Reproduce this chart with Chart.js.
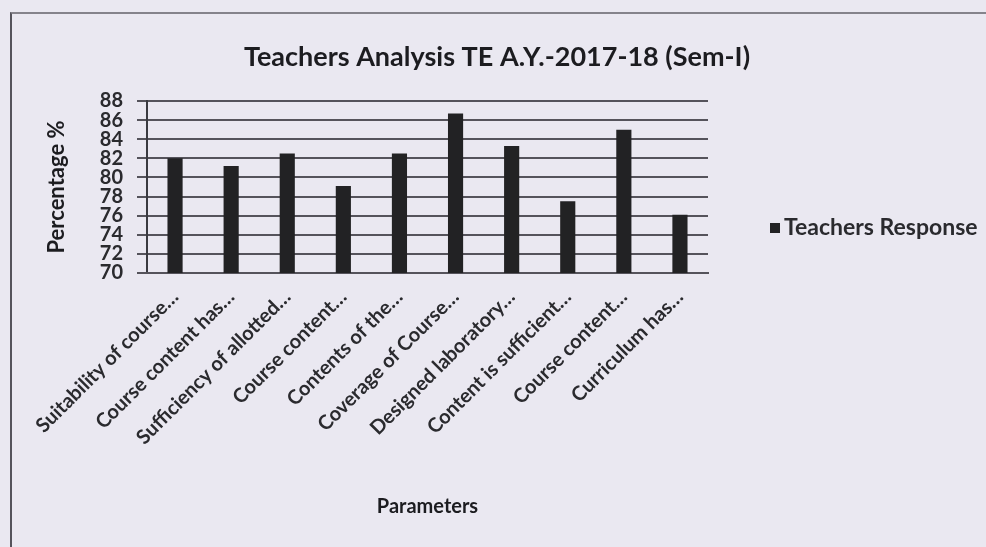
<!DOCTYPE html>
<html>
<head>
<meta charset="utf-8">
<script src="https://cdn.jsdelivr.net/npm/chart.js@4.4.0/dist/chart.umd.min.js"></script>
<style>
  html, body { margin: 0; padding: 0; background: #eae8f1; overflow: hidden; }
  #wrap { position: relative; width: 986px; height: 547px; }
  #frame { position: absolute; left: 10px; top: 12px; width: 1000px; height: 600px;
           border-left: 2px solid #55535b; border-top: 2px solid #85838b; }
  canvas { position: absolute; left: 0; top: 0; }
</style>
</head>
<body>
<div id="wrap">
  <div id="frame"></div>
  <canvas id="myChart" width="986" height="547"></canvas>
</div>
<script>
const categories = ['Suitability of course…', 'Course content has…', 'Sufficiency of allotted…',
  'Course content…', 'Contents of the…', 'Coverage of Course…', 'Designed laboratory…',
  'Content is sufficient…', 'Course content…', 'Curriculum has…'];
const teachersResponse = [82.0, 81.2, 82.5, 79.1, 82.5, 86.7, 83.3, 77.5, 85.0, 76.1];
const yMin = 70;
const yMax = 88;
const yStep = 2;
const chartTitle = 'Teachers Analysis TE A.Y.-2017-18 (Sem-I)';

Chart.defaults.font.family = 'Lato, "Open Sans", sans-serif';
Chart.defaults.color = '#2a2a2e';

// title over the whole chart and legend at the right, like the Excel one
const excelBits = {
  id: 'excelBits',
  afterDraw(chart) {
    const {ctx} = chart;
    const ds = chart.data.datasets[0];
    ctx.save();
    ctx.fillStyle = '#1c1c20';
    ctx.font = 'bold 27px Lato, sans-serif';
    ctx.textAlign = 'center';
    ctx.textBaseline = 'middle';
    ctx.fillText(chartTitle, 497, 57);

    ctx.fillStyle = ds.backgroundColor;
    ctx.fillRect(770, 223, 10, 10);
    ctx.fillStyle = '#2a2a2e';
    ctx.font = 'bold 23px Lato, sans-serif';
    ctx.textAlign = 'left';
    ctx.fillText(ds.label, 784, 228);
    ctx.restore();
  }
};

const ctx = document.getElementById('myChart');
new Chart(ctx, {
  type: 'bar',
  data: {
    labels: categories,
    datasets: [{
      label: 'Teachers Response',
      data: teachersResponse,
      backgroundColor: '#222224',
      barPercentage: 0.27,
      categoryPercentage: 1
    }]
  },
  options: {
    responsive: false,
    animation: false,
    layout: {
      padding: {left: 44, right: 278, top: 101, bottom: 28}
    },
    plugins: {
      legend: { display: false },
      tooltip: { enabled: false },
      title: { display: false }
    },
    scales: {
      y: {
        min: yMin,
        max: yMax,
        afterFit: (scale) => { scale.width = 103; },
        ticks: {
          stepSize: yStep,
          autoSkip: false,
          padding: 14,
          color: '#2a2a2e',
          font: { size: 20, weight: 'bold' }
        },
        grid: {
          color: '#55535b',
          lineWidth: 2,
          tickLength: 10
        },
        border: { color: '#3a3a40', width: 2 },
        title: {
          display: true,
          text: 'Percentage %',
          color: '#1c1c20',
          font: { size: 22, weight: 'bold' },
          padding: 0
        }
      },
      x: {
        afterFit: (scale) => { scale.height = 246; },
        ticks: {
          autoSkip: false,
          maxRotation: 45,
          minRotation: 45,
          padding: 4,
          color: '#2a2a2e',
          font: { size: 20, weight: 'bold' }
        },
        grid: { display: false },
        border: { color: '#55535b', width: 2 },
        title: {
          display: true,
          text: 'Parameters',
          color: '#1c1c20',
          font: { size: 20, weight: 'bold' },
          padding: 0
        }
      }
    }
  },
  plugins: [excelBits]
});
</script>
</body>
</html>
